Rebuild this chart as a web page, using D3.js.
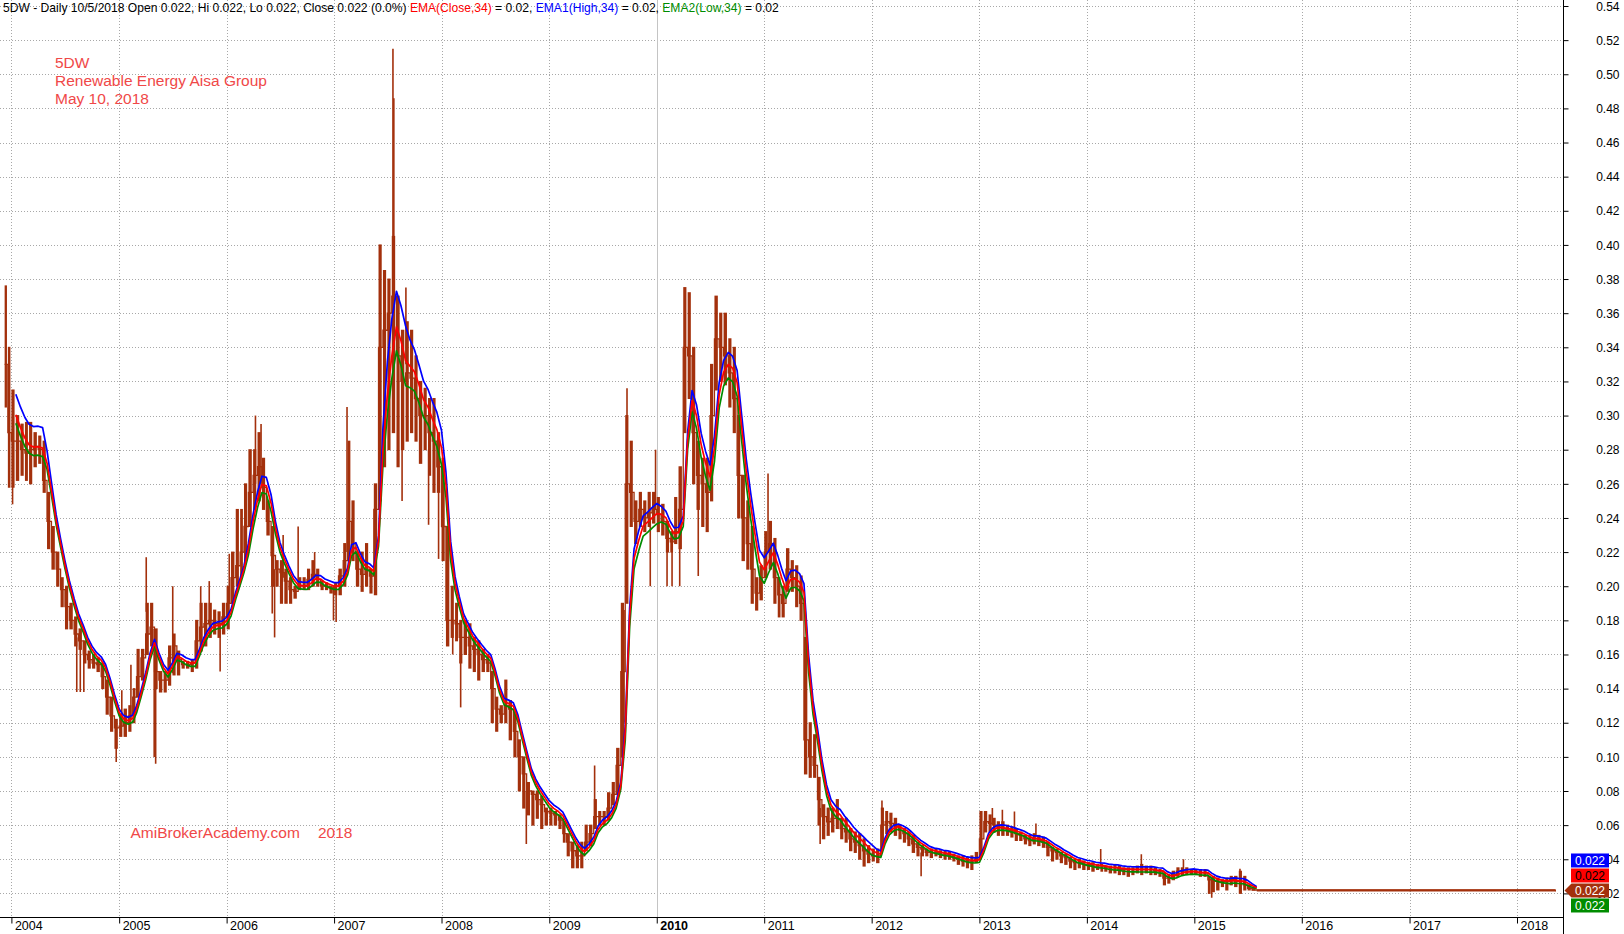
<!DOCTYPE html>
<html><head><meta charset="utf-8">
<script src="https://cdn.jsdelivr.net/npm/d3@7"></script>
<style>
body{margin:0;background:#fff}
svg{display:block}
text{font-family:"Liberation Sans",Arial,Helvetica,sans-serif}
</style>
</head><body>
<svg id="chart" width="1624" height="934"></svg>
<script>
// ---------------- DATA ----------------
const dates = [
"2003-12-09","2003-12-20",
"2004-01-01","2004-01-16","2004-02-01","2004-02-16","2004-03-01","2004-03-16","2004-04-01","2004-04-16","2004-05-01","2004-05-16","2004-06-01","2004-06-16","2004-07-01","2004-07-16","2004-08-01","2004-08-16","2004-09-01","2004-09-16","2004-10-01","2004-10-16","2004-11-01","2004-11-16","2004-12-01","2004-12-16",
"2005-01-01","2005-01-16","2005-02-01","2005-02-16","2005-03-01","2005-03-16","2005-04-01","2005-04-16","2005-05-01","2005-05-16","2005-06-01","2005-06-16","2005-07-01","2005-07-16","2005-08-01","2005-08-16","2005-09-01","2005-09-16","2005-10-01","2005-10-16","2005-11-01","2005-11-16","2005-12-01","2005-12-16",
"2006-01-01","2006-01-16","2006-02-01","2006-02-16","2006-03-01","2006-03-16","2006-04-01","2006-04-16","2006-05-01","2006-05-16","2006-06-01","2006-06-16","2006-07-01","2006-07-16","2006-08-01","2006-08-16","2006-09-01","2006-09-16","2006-10-01","2006-10-16","2006-11-01","2006-11-16","2006-12-01","2006-12-16",
"2007-01-01","2007-01-16","2007-02-01","2007-02-16","2007-03-01","2007-03-16","2007-04-01","2007-04-16","2007-05-01","2007-05-16","2007-06-01","2007-06-16","2007-07-01","2007-07-16","2007-08-01","2007-08-16","2007-09-01","2007-09-16","2007-10-01","2007-10-16","2007-11-01","2007-11-16","2007-12-01","2007-12-16",
"2008-01-01","2008-01-16","2008-02-01","2008-02-16","2008-03-01","2008-03-16","2008-04-01","2008-04-16","2008-05-01","2008-05-16","2008-06-01","2008-06-16","2008-07-01","2008-07-16","2008-08-01","2008-08-16","2008-09-01","2008-09-16","2008-10-01","2008-10-16","2008-11-01","2008-11-16","2008-12-01","2008-12-16",
"2009-01-01","2009-01-16","2009-02-01","2009-02-16","2009-03-01","2009-03-16","2009-04-01","2009-04-16","2009-05-01","2009-05-16","2009-06-01","2009-06-16","2009-07-01","2009-07-16","2009-08-01","2009-08-16","2009-09-01","2009-09-16","2009-10-01","2009-10-16","2009-11-01","2009-11-16","2009-12-01","2009-12-16",
"2010-01-01","2010-01-16","2010-02-01","2010-02-16","2010-03-01","2010-03-16","2010-04-01","2010-04-16","2010-05-01","2010-05-16","2010-06-01","2010-06-16","2010-07-01","2010-07-16","2010-08-01","2010-08-16","2010-09-01","2010-09-16","2010-10-01","2010-10-16","2010-11-01","2010-11-16","2010-12-01","2010-12-16",
"2011-01-01","2011-01-16","2011-02-01","2011-02-16","2011-03-01","2011-03-16","2011-04-01","2011-04-16","2011-05-01","2011-05-16","2011-06-01","2011-06-16","2011-07-01","2011-07-16","2011-08-01","2011-08-16","2011-09-01","2011-09-16","2011-10-01","2011-10-16","2011-11-01","2011-11-16","2011-12-01","2011-12-16",
"2012-01-01","2012-01-16","2012-02-01","2012-02-16","2012-03-01","2012-03-16","2012-04-01","2012-04-16","2012-05-01","2012-05-16","2012-06-01","2012-06-16","2012-07-01","2012-07-16","2012-08-01","2012-08-16","2012-09-01","2012-09-16","2012-10-01","2012-10-16","2012-11-01","2012-11-16","2012-12-01","2012-12-16",
"2013-01-01","2013-01-16","2013-02-01","2013-02-16","2013-03-01","2013-03-16","2013-04-01","2013-04-16","2013-05-01","2013-05-16","2013-06-01","2013-06-16","2013-07-01","2013-07-16","2013-08-01","2013-08-16","2013-09-01","2013-09-16","2013-10-01","2013-10-16","2013-11-01","2013-11-16","2013-12-01","2013-12-16",
"2014-01-01","2014-01-16","2014-02-01","2014-02-16","2014-03-01","2014-03-16","2014-04-01","2014-04-16","2014-05-01","2014-05-16","2014-06-01","2014-06-16","2014-07-01","2014-07-16","2014-08-01","2014-08-16","2014-09-01","2014-09-16","2014-10-01","2014-10-16","2014-11-01","2014-11-16","2014-12-01","2014-12-16",
"2015-01-01","2015-01-16","2015-02-01","2015-02-16","2015-03-01","2015-03-16","2015-04-01","2015-04-16","2015-05-01","2015-05-16","2015-06-01","2015-06-16","2015-07-01","2015-07-16",
"2015-08-01","2016-01-01","2017-01-01","2018-01-01","2018-05-10"
];
// bar range (high / low of each period) and close
const high = [
.376,.34,
.315,.30,.295,.296,.296,.29,.288,.285,.255,.235,.22,.205,.2,.19,.182,.175,.168,.162,.16,.158,.155,.145,.135,.122,
.125,.128,.13,.14,.163,.163,.19,.19,.175,.15,.15,.165,.172,.162,.156,.156,.157,.18,.19,.19,.19,.186,.185,.19,
.2,.22,.245,.245,.26,.28,.28,.29,.275,.25,.235,.215,.215,.21,.205,.2,.205,.205,.21,.215,.21,.203,.202,.2,
.202,.21,.225,.285,.25,.22,.22,.225,.21,.26,.40,.385,.38,.405,.37,.35,.355,.35,.335,.32,.316,.31,.31,.29,
.275,.235,.2,.19,.18,.18,.178,.17,.168,.163,.16,.15,.135,.13,.145,.133,.125,.11,.1,.085,.08,.08,.077,.07,
.07,.068,.066,.062,.055,.05,.048,.05,.06,.06,.075,.068,.068,.079,.085,.105,.19,.30,.285,.25,.255,.25,.255,.255,
.252,.248,.238,.232,.252,.27,.375,.372,.34,.285,.275,.275,.33,.37,.36,.36,.345,.34,.3,.265,.25,.235,.205,.212,
.232,.238,.228,.205,.2,.222,.215,.212,.206,.17,.12,.113,.088,.072,.07,.07,.075,.064,.064,.058,.056,.055,.052,.048,
.046,.046,.07,.068,.067,.064,.06,.058,.056,.054,.05,.048,.046,.046,.046,.045,.045,.044,.043,.042,.042,.041,.042,.044,
.068,.068,.066,.064,.062,.062,.06,.059,.058,.056,.054,.054,.055,.054,.053,.05,.047,.046,.044,.043,.041,.04,.04,.039,
.038,.038,.037,.037,.036,.036,.037,.036,.035,.035,.035,.036,.037,.036,.036,.035,.034,.032,.031,.033,.035,.035,.035,.034,
.034,.034,.034,.03,.03,.029,.028,.029,.03,.03,.033,.03,.025,.023,
.022,.022,.022,.022,.022
];
const low = [
.305,.258,
.258,.262,.265,.262,.26,.27,.272,.255,.222,.21,.2,.188,.175,.175,.165,.163,.155,.152,.152,.15,.14,.125,.115,.105,
.112,.112,.115,.12,.135,.145,.16,.165,.14,.138,.138,.142,.148,.148,.152,.152,.15,.152,.162,.165,.17,.172,.17,.172,
.175,.19,.2,.205,.215,.235,.245,.25,.245,.23,.2,.2,.19,.19,.19,.193,.198,.198,.198,.2,.2,.198,.198,.196,
.195,.195,.2,.215,.215,.2,.197,.2,.196,.195,.25,.27,.28,.29,.27,.28,.285,.29,.285,.272,.28,.265,.255,.255,
.215,.165,.17,.168,.155,.16,.152,.15,.145,.15,.15,.12,.115,.12,.12,.11,.1,.08,.07,.066,.06,.064,.058,.06,
.06,.06,.058,.05,.042,.035,.035,.035,.045,.048,.058,.06,.06,.063,.072,.078,.1,.19,.235,.225,.235,.232,.235,.237,
.232,.23,.22,.22,.225,.222,.29,.31,.26,.245,.235,.232,.25,.315,.32,.318,.305,.29,.24,.215,.21,.19,.186,.192,
.205,.21,.19,.182,.182,.197,.197,.188,.18,.09,.088,.088,.06,.052,.054,.056,.058,.052,.05,.045,.044,.04,.036,.038,
.039,.038,.046,.055,.056,.054,.052,.05,.048,.044,.042,.042,.042,.041,.042,.041,.04,.04,.039,.037,.036,.035,.034,.038,
.042,.056,.056,.056,.054,.054,.054,.053,.051,.051,.049,.048,.049,.048,.047,.042,.039,.04,.038,.037,.035,.034,.035,.034,
.034,.033,.034,.033,.033,.032,.032,.031,.031,.03,.031,.032,.031,.032,.031,.031,.03,.025,.026,.028,.03,.031,.031,.031,
.031,.03,.03,.02,.021,.022,.024,.022,.025,.024,.02,.022,.022,.022,
.022,.022,.022,.022,.022
];
const close = [
.33,.29,
.285,.285,.28,.278,.28,.282,.28,.262,.238,.22,.21,.198,.188,.18,.172,.168,.16,.157,.155,.154,.147,.135,.124,.117,
.118,.12,.124,.135,.147,.158,.172,.176,.15,.145,.145,.158,.165,.157,.154,.154,.155,.168,.176,.178,.18,.178,.178,.182,
.19,.205,.212,.22,.235,.255,.265,.27,.258,.238,.218,.21,.208,.203,.198,.197,.2,.2,.204,.207,.204,.2,.2,.199,
.2,.206,.215,.238,.225,.21,.207,.21,.206,.245,.34,.35,.36,.37,.335,.32,.325,.322,.31,.3,.3,.29,.285,.27,
.235,.18,.18,.178,.17,.17,.165,.163,.16,.157,.155,.14,.128,.125,.13,.128,.115,.1,.09,.08,.078,.075,.072,.068,
.067,.066,.063,.055,.05,.045,.042,.042,.05,.055,.065,.065,.065,.07,.078,.095,.15,.26,.255,.238,.245,.24,.243,.245,
.242,.238,.228,.226,.232,.245,.34,.335,.29,.265,.26,.255,.3,.345,.34,.335,.325,.31,.265,.24,.225,.21,.196,.205,
.22,.225,.205,.195,.19,.21,.205,.2,.19,.11,.1,.095,.075,.065,.062,.064,.064,.058,.056,.052,.05,.048,.045,.043,
.042,.042,.06,.062,.061,.06,.057,.055,.052,.049,.047,.046,.044,.044,.044,.043,.043,.042,.041,.04,.039,.039,.039,.04,
.052,.062,.061,.06,.059,.058,.057,.056,.055,.054,.052,.051,.052,.051,.05,.047,.045,.044,.042,.041,.039,.038,.038,.037,
.037,.036,.036,.036,.035,.035,.035,.034,.034,.034,.034,.034,.034,.034,.034,.033,.033,.029,.029,.031,.033,.033,.033,.033,
.032,.032,.032,.028,.027,.027,.027,.027,.028,.027,.027,.025,.023,.022,
.022,.022,.022,.022,.022
];
// typical daily high / low of each period (inputs of EMA1(High) and EMA2(Low))
const dayHigh = [
.342,.302,
.297,.297,.292,.29,.292,.294,.292,.264,.24,.222,.212,.2,.19,.182,.174,.17,.162,.159,.157,.156,.149,.137,.126,.119,
.12,.122,.126,.137,.149,.16,.174,.178,.152,.147,.147,.16,.167,.159,.156,.156,.157,.17,.178,.18,.182,.18,.18,.184,
.192,.207,.214,.222,.24,.26,.27,.275,.263,.243,.22,.212,.21,.205,.2,.199,.202,.202,.206,.209,.206,.202,.202,.201,
.202,.208,.217,.243,.227,.212,.209,.212,.208,.249,.365,.375,.385,.39,.355,.34,.335,.332,.32,.31,.31,.30,.295,.28,
.239,.184,.182,.18,.172,.172,.167,.165,.162,.159,.157,.142,.13,.127,.132,.13,.117,.102,.092,.082,.08,.077,.074,.07,
.069,.068,.065,.057,.052,.047,.044,.044,.052,.057,.067,.067,.067,.072,.08,.097,.156,.266,.261,.244,.251,.246,.249,.251,
.245,.241,.231,.229,.235,.248,.347,.342,.297,.272,.267,.262,.307,.352,.347,.342,.332,.317,.272,.247,.232,.217,.203,.212,
.225,.23,.21,.2,.195,.215,.21,.205,.195,.115,.103,.098,.078,.068,.065,.067,.067,.061,.059,.055,.053,.051,.048,.046,
.0435,.0435,.0615,.0635,.0625,.0615,.0585,.0565,.0535,.0505,.0485,.0475,.0455,.0455,.0455,.0445,.0445,.0435,.0425,.0415,.0405,.0405,.0405,.0415,
.0535,.0635,.0625,.0615,.0605,.0595,.0585,.0575,.0565,.0555,.0535,.0525,.0535,.0525,.0515,.0485,.0465,.0455,.0435,.0425,.0405,.0395,.0395,.0385,
.0385,.0375,.0375,.0375,.0365,.0365,.0365,.0355,.0355,.0355,.0355,.0355,.0355,.0355,.0355,.0345,.0345,.0305,.0305,.0325,.0345,.0345,.0345,.0345,
.0335,.0335,.0335,.0295,.0285,.0285,.0285,.0285,.0295,.0285,.0285,.0265,.0235,.022,
.022,.022,.022,.022,.022
];
const dayLow = [
.325,.285,
.28,.28,.275,.273,.275,.277,.275,.26,.236,.218,.208,.196,.186,.178,.17,.166,.158,.155,.153,.152,.145,.133,.122,.115,
.116,.118,.122,.133,.145,.156,.17,.174,.148,.143,.143,.156,.163,.155,.152,.152,.153,.166,.174,.176,.178,.176,.176,.18,
.188,.203,.21,.218,.23,.25,.26,.265,.253,.233,.216,.208,.206,.201,.196,.195,.198,.198,.202,.205,.202,.198,.198,.197,
.198,.204,.213,.233,.223,.208,.205,.208,.204,.241,.325,.335,.345,.355,.32,.305,.315,.312,.30,.29,.29,.28,.275,.26,
.231,.176,.178,.176,.168,.168,.163,.161,.158,.155,.153,.138,.126,.123,.128,.126,.113,.098,.088,.078,.076,.073,.07,.066,
.065,.064,.061,.053,.048,.043,.04,.04,.048,.053,.063,.063,.063,.068,.076,.093,.142,.252,.249,.232,.239,.234,.237,.239,
.239,.235,.225,.223,.229,.242,.332,.327,.282,.257,.252,.247,.292,.337,.332,.327,.317,.302,.257,.232,.217,.202,.188,.197,
.215,.22,.2,.19,.185,.205,.2,.195,.185,.105,.097,.092,.072,.062,.059,.061,.061,.055,.053,.049,.047,.045,.042,.04,
.0405,.0405,.0585,.0605,.0595,.0585,.0555,.0535,.0505,.0475,.0455,.0445,.0425,.0425,.0425,.0415,.0415,.0405,.0395,.0385,.0375,.0375,.0375,.0385,
.0505,.0605,.0595,.0585,.0575,.0565,.0555,.0545,.0535,.0525,.0505,.0495,.0505,.0495,.0485,.0455,.0435,.0425,.0405,.0395,.0375,.0365,.0365,.0355,
.0355,.0345,.0345,.0345,.0335,.0335,.0335,.0325,.0325,.0325,.0325,.0325,.0325,.0325,.0325,.0315,.0315,.0275,.0275,.0295,.0315,.0315,.0315,.0315,
.0305,.0305,.0305,.0265,.0255,.0255,.0255,.0255,.0265,.0255,.0255,.0235,.0225,.022,
.022,.022,.022,.022,.022
];
// isolated single-day wicks
const spikeDates = ["2004-01-05","2004-08-10","2004-08-22","2004-09-03","2004-12-22","2005-01-10","2005-02-10","2005-04-03","2005-04-30","2005-05-05","2005-07-02","2005-10-05","2005-11-03","2005-12-10","2006-01-10","2006-04-09","2006-04-28","2006-06-05","2006-06-13","2006-07-12","2006-09-01","2006-10-27","2006-12-30","2007-01-08","2007-02-14","2007-07-20","2007-07-23","2007-08-20","2007-09-02","2007-11-18","2007-12-22","2008-02-08","2008-03-06","2008-10-15","2009-06-04","2009-09-12","2009-09-22","2009-12-10","2009-12-28","2010-02-05","2010-02-22","2010-03-20","2010-05-22","2011-01-14","2011-07-10","2012-02-05","2012-06-17","2013-02-14","2013-03-20","2013-04-30","2013-07-12","2014-02-17","2014-07-05","2014-11-25","2015-03-01","2015-06-05"];
const spikeHigh = [.30,.17,.168,.16,.12,.139,.154,.217,.175,.15,.2,.2,.203,.178,.219,.30,.295,.23,.21,.23,.235,.22,.2,.2,.305,.515,.486,.30,.375,.28,.27,.18,.16,.08,.095,.186,.316,.24,.28,.225,.225,.23,.25,.266,.07,.0745,.044,.07,.069,.068,.061,.046,.043,.04,.028,.0345];
const spikeLow  = [.248,.138,.138,.138,.097,.118,.122,.185,.10,.096,.149,.175,.18,.15,.19,.26,.26,.184,.17,.205,.20,.205,.18,.179,.22,.40,.40,.25,.33,.236,.216,.16,.129,.049,.065,.12,.20,.20,.245,.20,.20,.20,.206,.22,.049,.06,.03,.06,.058,.056,.053,.036,.035,.033,.0175,.027];

const yTicks = [0.02,0.04,0.06,0.08,0.10,0.12,0.14,0.16,0.18,0.20,0.22,0.24,0.26,0.28,0.30,0.32,0.34,0.36,0.38,0.40,0.42,0.44,0.46,0.48,0.50,0.52,0.54];
const yearTicks = ["2004","2005","2006","2007","2008","2009","2010","2011","2012","2013","2014","2015","2016","2017","2018"];
const emaPeriod = 34;
const emaEnd = "2015-08-01";

const titleParts = [
  ["5DW - Daily 10/5/2018 Open 0.022, Hi 0.022, Lo 0.022, Close 0.022 (0.0%) ", "#000"],
  ["EMA(Close,34)", "#ff0000"], [" = 0.02, ", "#000"],
  ["EMA1(High,34)", "#0000ff"], [" = 0.02, ", "#000"],
  ["EMA2(Low,34)", "#008c00"], [" = 0.02", "#000"]
];
const noteLines = ["5DW", "Renewable Energy Aisa Group", "May 10, 2018"];

// ---------------- DRAWING ----------------
const W = 1624, H = 934, AX = 1563.5, AY = 917.5;
const BROWN = "#a3300c", RED = "#ff0000", BLUE = "#0000ff", GREEN = "#008c00";
const parse = d3.timeParse("%Y-%m-%d");
const D = dates.map(parse);
const n = D.length;

const x = d3.scaleTime().domain([new Date(2004,0,1), new Date(2018,0,1)]).range([11.4, 1517]);
const y = d3.scaleLinear().domain([0.02, 0.54]).range([893.4, 6]);

const svg = d3.select("#chart");
svg.append("rect").attr("width",W).attr("height",H).attr("fill","#fff");

// grid
const grid = svg.append("g");
grid.selectAll("line.h").data(yTicks).join("line")
  .attr("x1",0).attr("x2",AX).attr("y1",d=>Math.round(y(d))+0.5).attr("y2",d=>Math.round(y(d))+0.5)
  .attr("stroke","#a8a8a8").attr("stroke-dasharray","1,2");
grid.selectAll("line.v").data(yearTicks).join("line")
  .attr("x1",d=>Math.round(x(new Date(+d,0,1)))+0.5).attr("x2",d=>Math.round(x(new Date(+d,0,1)))+0.5)
  .attr("y1",0).attr("y2",AY)
  .attr("stroke",d=>d==="2010"?"#c4c4c4":"#a8a8a8")
  .attr("stroke-dasharray",d=>d==="2010"?null:"1,2");

// clip for plot
svg.append("clipPath").attr("id","plot").append("rect").attr("x",0).attr("y",0).attr("width",AX).attr("height",AY);
const plot = svg.append("g").attr("clip-path","url(#plot)");

// price bars: one bar per period, narrower than the period so the texture stays open
const bars = d3.range(n).map(i => {
  const x0 = x(D[i]);
  const x1 = i < n-1 ? x(D[i+1]) : x0 + 1;
  return {x0, x1, hi: high[i], lo: low[i]};
});
plot.append("g").selectAll("rect").data(bars).join("rect")
  .attr("x", d => d.x0)
  .attr("width", d => { const w = d.x1 - d.x0; return w > 8 ? w + 0.4 : Math.max(1, w * 0.72); })
  .attr("y", d => y(d.hi) - 0.5)
  .attr("height", d => Math.max(2, y(d.lo) - y(d.hi) + 1))
  .attr("fill", BROWN);
// close-to-close steps connecting the bars
plot.append("path")
  .datum(d3.range(n).map(i => ({t: D[i], v: close[i]})))
  .attr("d", d3.line().x(d => x(d.t)).y(d => y(d.v)).curve(d3.curveStepAfter))
  .attr("fill","none").attr("stroke",BROWN).attr("stroke-width",1.3);

// wicks
plot.append("g").selectAll("line").data(spikeDates).join("line")
  .attr("x1",(d)=>x(parse(d))).attr("x2",(d)=>x(parse(d)))
  .attr("y1",(d,i)=>y(spikeHigh[i])).attr("y2",(d,i)=>y(spikeLow[i]))
  .attr("stroke",BROWN).attr("stroke-width",1.6);

// EMA computed on the period series (alpha scaled by trading days in the period)
function ema(vals){
  const out = []; let e = vals[0];
  for (let i = 0; i < n; i++) {
    const end = i < n-1 ? D[i+1] : d3.timeDay.offset(D[i], 15);
    const td = (end - D[i]) / 864e5 * 5/7;
    const a = 1 - Math.pow(1 - 2/(emaPeriod+1), td);
    e = i === 0 ? vals[0] : e + a * (vals[i] - e);
    out.push({t: end, v: e});
  }
  return out;
}
const endT = parse(emaEnd);
const line = d3.line().x(d => x(d.t)).y(d => y(d.v));
const emaSets = [[dayLow, GREEN], [dayHigh, BLUE], [close, RED]];
emaSets.forEach(([vals, col]) => {
  const pts = ema(vals).filter((d,i) => i >= 2 && d.t <= endT);
  plot.append("path").datum(pts).attr("d", line)
    .attr("fill","none").attr("stroke",col).attr("stroke-width",1.7).attr("stroke-linejoin","round");
});

// y axis (right)
svg.append("line").attr("x1",AX).attr("x2",AX).attr("y1",0).attr("y2",H).attr("stroke","#000");
const ya = svg.append("g").attr("transform",`translate(${AX},0)`)
  .call(d3.axisRight(y).tickValues(yTicks).tickSize(5).tickSizeOuter(0).tickFormat(d3.format(".2f")));
ya.select(".domain").remove();
ya.attr("font-family",null).attr("font-size",null);
ya.selectAll(".tick line").attr("stroke","#000");
ya.selectAll(".tick text").attr("x", 1619.5 - AX).attr("text-anchor","end").attr("dy","0.35em")
  .attr("fill","#000").style("font-size","12px");

// x axis (bottom)
svg.append("line").attr("x1",0).attr("x2",AX).attr("y1",AY).attr("y2",AY).attr("stroke","#000");
const xa = svg.append("g").attr("transform",`translate(0,${AY})`)
  .call(d3.axisBottom(x).tickValues(yearTicks.map(s => new Date(+s,0,1))).tickSize(6).tickSizeOuter(0).tickFormat(d3.timeFormat("%Y")));
xa.select(".domain").remove();
xa.attr("font-family",null).attr("font-size",null);
xa.selectAll(".tick line").attr("stroke","#000");
xa.selectAll(".tick text").attr("x",3).attr("y",12.5).attr("dy",null).attr("text-anchor","start")
  .attr("fill","#000").style("font-size","12.5px")
  .style("font-weight", d => d.getFullYear() === 2010 ? "bold" : null);

// last value labels on the axis
const last = n - 1;
const cy = y(close[last]);
const labels = [
  {v: dayHigh[last], fill: BLUE, txt: "#fff", dy: -30},
  {v: close[last], fill: RED, txt: "#000", dy: -15},
  {v: close[last], fill: BROWN, txt: "#fff", dy: 0, arrow: true},
  {v: dayLow[last], fill: GREEN, txt: "#fff", dy: 15}
];
const lg = svg.append("g");
labels.forEach(l => {
  const c = cy + l.dy + 0.5;
  if (l.arrow) {
    lg.append("path").attr("d", `M${AX+1},${c} L${AX+8},${c-7} L1609,${c-7} L1609,${c+7} L${AX+8},${c+7} Z`).attr("fill", l.fill);
  } else {
    lg.append("rect").attr("x",1571).attr("y",c-7).attr("width",38).attr("height",14).attr("fill",l.fill);
  }
  lg.append("text").attr("x",1590).attr("y",c).attr("dy","0.36em").attr("text-anchor","middle")
    .attr("fill",l.txt).style("font-size","12px").text(d3.format(".3f")(l.v));
});

// title
const title = svg.append("text").attr("x",3).attr("y",11.5).style("font-size","12px");
titleParts.forEach(([s,c]) => title.append("tspan").attr("fill",c).attr("xml:space","preserve").text(s));
title.attr("xml:space","preserve");
const tw = title.node().getComputedTextLength();
if (tw > 0) title.style("font-size", (12 * 776 / tw).toFixed(2) + "px");

// notes
const notes = svg.append("g").attr("fill","#f04848").style("font-size","15.5px");
noteLines.forEach((s,i) => notes.append("text").attr("x",55).attr("y",67.5 + i*18).text(s));
notes.append("text").attr("x",130.5).attr("y",838).text("AmiBrokerAcademy.com");
notes.append("text").attr("x",318).attr("y",838).text("2018");
</script>
</body></html>
